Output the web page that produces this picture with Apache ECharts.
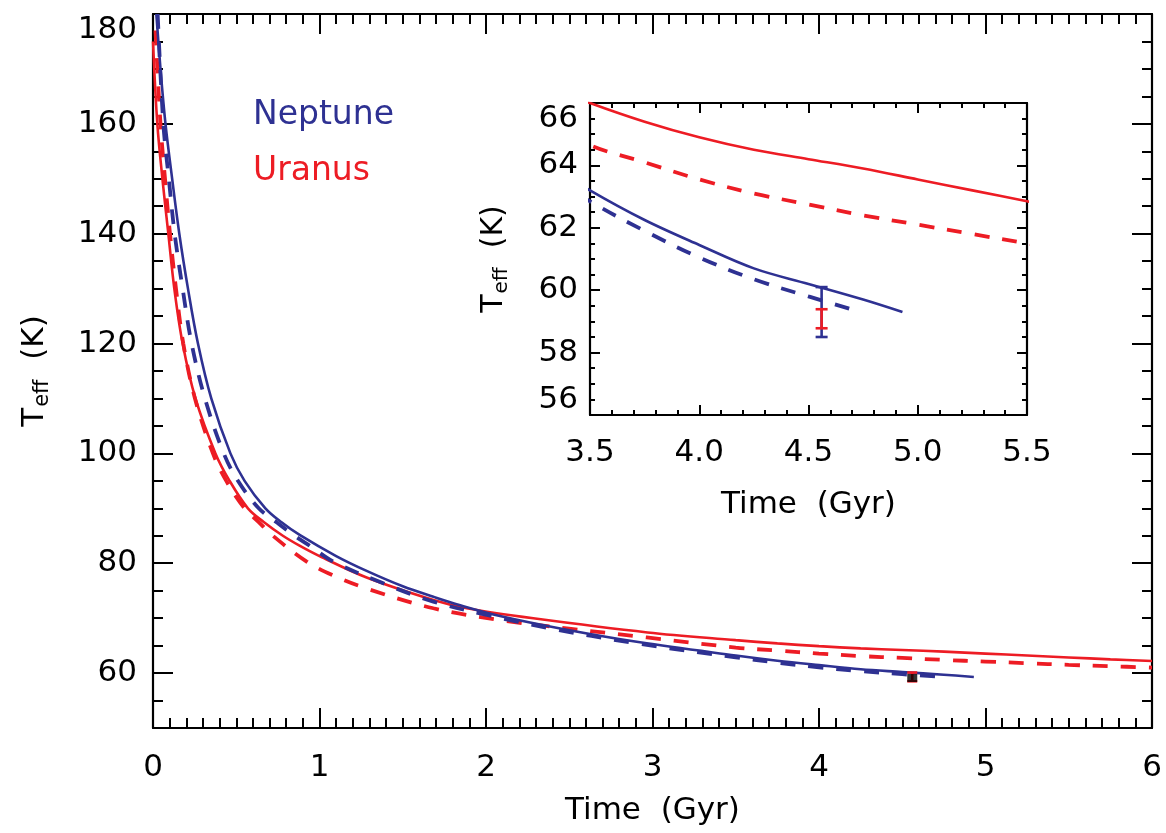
<!DOCTYPE html>
<html><head><meta charset="utf-8">
<script src="https://cdn.jsdelivr.net/npm/echarts@6/dist/echarts.min.js"></script>
<style>html,body{margin:0;padding:0;background:#fff}#c{width:1166px;height:833px}</style>
</head><body><div id="c"></div>
<script>
// ---- data (Time in Gyr, Teff in K) ----
const nepSolidTime = [0.02, 0.045, 0.075, 0.115, 0.158, 0.21, 0.27, 0.35, 0.465, 0.55, 0.675, 0.77, 0.883, 1.1, 1.283, 1.5, 1.684, 1.84, 2.084, 2.485, 2.925, 3.5, 3.75, 4.0, 4.25, 4.5, 4.75, 4.93];
const nepSolidTeff = [180, 170, 160, 150, 140, 130, 120, 110, 100, 95, 90, 87.5, 85.1, 81.3, 78.6, 75.8, 73.9, 72.4, 70.4, 67.9, 65.6, 63.2, 62.25, 61.45, 60.7, 60.2, 59.7, 59.3];
const nepDashTime = [0.028, 0.062, 0.095, 0.13, 0.178, 0.232, 0.312, 0.425, 0.51, 0.635, 0.74, 0.85, 0.95, 1.083, 1.383, 1.684, 2.004, 2.384, 2.885, 3.5, 3.75, 4.0, 4.25, 4.5, 4.74];
const nepDashTeff = [180, 160, 150, 140, 130, 120, 110, 100, 95, 90, 87.5, 85, 83, 80.3, 76.35, 73.0, 70.6, 68.15, 65.5, 62.85, 61.9, 61.05, 60.35, 59.8, 59.3];
const uraSolidTime = [0, 0.026, 0.06, 0.092, 0.128, 0.178, 0.255, 0.375, 0.46, 0.57, 0.665, 0.78, 0.88, 1.0, 1.283, 1.684, 1.884, 2.284, 2.97, 3.5, 3.75, 4.0, 4.25, 4.5, 4.75, 5.0, 5.25, 5.5, 5.75, 6.0];
const uraSolidTeff = [175, 160, 149, 140, 130, 120, 110, 100, 95, 90, 87.5, 85, 83.2, 81.3, 77.4, 73.3, 71.8, 69.97, 67.4, 66.0, 65.4, 64.9, 64.5, 64.2, 63.9, 63.55, 63.2, 62.85, 62.5, 62.2];
const uraDashTime = [0.015, 0.045, 0.075, 0.102, 0.138, 0.182, 0.252, 0.36, 0.44, 0.55, 0.635, 0.72, 0.923, 1.08, 1.283, 1.684, 2.084, 2.485, 2.965, 3.5, 3.75, 4.0, 4.25, 4.5, 4.75, 5.0, 5.25, 5.5, 5.75, 6.0];
const uraDashTeff = [177, 160, 149, 140, 130, 120, 110, 100, 95, 90, 87.5, 85, 80.3, 77.8, 75.4, 71.8, 69.66, 68.15, 66.5, 64.65, 64.1, 63.55, 63.1, 62.75, 62.4, 62.1, 61.8, 61.5, 61.25, 61.0];
// observed Teff at present age
const obsTime = [4.56];
const nepObsLow = [58.5], nepObsHigh = [60.1];
const uraObsLow = [58.78], uraObsHigh = [59.39];
const obsMarkTeff = [59.1];
const legendNames = ['Neptune', 'Uranus'];

const BLUE = '#2E3192', RED = '#ED1C24';
const FONT = 'DejaVu Sans';
const pairs = (a, b) => a.map((v, i) => [v, b[i]]);

function errBar(capW, lw) {
  return function (params, api) {
    const x = api.value(0), lo = api.value(1), hi = api.value(2);
    const p1 = api.coord([x, lo]), p2 = api.coord([x, hi]);
    const st = { stroke: api.visual('color'), lineWidth: lw };
    return { type: 'group', children: [
      { type: 'line', shape: { x1: p1[0], y1: p1[1], x2: p2[0], y2: p2[1] }, style: st },
      { type: 'line', shape: { x1: p1[0] - capW / 2, y1: p1[1], x2: p1[0] + capW / 2, y2: p1[1] }, style: st },
      { type: 'line', shape: { x1: p2[0] - capW / 2, y1: p2[1], x2: p2[0] + capW / 2, y2: p2[1] }, style: st }
    ]};
  };
}

const axLine = { show: true, onZero: false, lineStyle: { color: '#000', width: 2.2 } };
const lbl = (o) => Object.assign({ color: '#000', fontFamily: FONT, fontSize: 31 }, o);
const nameRich = (fs, sfs, pad) => ({
  t: { fontFamily: FONT, fontSize: fs, color: '#000' },
  s: { fontFamily: FONT, fontSize: sfs, color: '#000', padding: [pad, 0, 0, 1] }
});

function mainX(pos, showLabel) {
  return {
    type: 'value', gridIndex: 0, position: pos, min: 0, max: 6, interval: 1,
    axisLine: axLine, splitLine: { show: false },
    axisTick: { show: true, inside: true, length: 20, lineStyle: { color: '#000', width: 2 } },
    minorTick: { show: true, splitNumber: 10, length: 10, lineStyle: { color: '#000', width: 2 } },
    axisLabel: lbl({ show: showLabel, margin: 24 }),
    name: showLabel ? 'Time  (Gyr)' : '', nameLocation: 'middle', nameGap: 67,
    nameTextStyle: { fontFamily: FONT, fontSize: 31, color: '#000' }
  };
}
function mainY(pos, showLabel) {
  return {
    type: 'value', gridIndex: 0, position: pos, min: 50, max: 180, splitNumber: 6,
    minInterval: 20, maxInterval: 20,
    axisLine: axLine, splitLine: { show: false },
    axisTick: { show: true, inside: true, length: 20, lineStyle: { color: '#000', width: 2 } },
    minorTick: { show: true, splitNumber: 4, length: 10, lineStyle: { color: '#000', width: 2 } },
    axisLabel: lbl({ show: showLabel, margin: 16, showMinLabel: false, verticalAlignMaxLabel: 'top' }),
    name: showLabel ? '{t|T}{s|eff}{t|  (K)}' : '', nameLocation: 'middle', nameGap: 100, nameRotate: 90,
    nameTextStyle: { rich: nameRich(31, 21, 16) }
  };
}
function insetX(pos, showLabel) {
  return {
    type: 'value', gridIndex: 1, position: pos, min: 3.5, max: 5.5, interval: 0.5,
    axisLine: axLine, splitLine: { show: false },
    axisTick: { show: true, inside: true, length: 10, lineStyle: { color: '#000', width: 2 } },
    minorTick: { show: true, splitNumber: 5, length: 5, lineStyle: { color: '#000', width: 2 } },
    axisLabel: lbl({ show: showLabel, margin: 22, formatter: v => v.toFixed(1) }),
    name: showLabel ? 'Time  (Gyr)' : '', nameLocation: 'middle', nameGap: 74,
    nameTextStyle: { fontFamily: FONT, fontSize: 31, color: '#000' }
  };
}
function insetY(pos, showLabel) {
  return {
    type: 'value', gridIndex: 1, position: pos, min: 56, max: 66, interval: 2,
    axisLine: axLine, splitLine: { show: false },
    axisTick: { show: true, inside: true, length: 10, lineStyle: { color: '#000', width: 2 } },
    minorTick: { show: true, splitNumber: 4, length: 5, lineStyle: { color: '#000', width: 2 } },
    axisLabel: lbl({ show: showLabel, margin: 12, verticalAlignMinLabel: 'bottom', verticalAlignMaxLabel: 'top' }),
    name: showLabel ? '{t|T}{s|eff}{t|  (K)}' : '', nameLocation: 'middle', nameGap: 78, nameRotate: 90,
    nameTextStyle: { rich: nameRich(30, 20, 15) }
  };
}

function curve(name, t, k, color, dashed, xi, yi) {
  return {
    name, type: 'line', xAxisIndex: xi, yAxisIndex: yi, data: pairs(t, k),
    showSymbol: false, symbol: 'none', smooth: 0.35, clip: true,
    lineStyle: { color, width: dashed ? 3.8 : 2.6, type: dashed ? [15, 13] : 'solid', cap: 'butt' },
    silent: true, animation: false
  };
}

const series = [];
[[0, 0], [2, 2]].forEach(([xi, yi]) => {
  series.push(curve('Uranus', uraSolidTime, uraSolidTeff, RED, false, xi, yi));
  series.push(curve('Uranus', uraDashTime, uraDashTeff, RED, true, xi, yi));
  series.push(curve('Neptune', nepSolidTime, nepSolidTeff, BLUE, false, xi, yi));
  series.push(curve('Neptune', nepDashTime, nepDashTeff, BLUE, true, xi, yi));
});
// inset error bars
series.push({ type: 'custom', xAxisIndex: 2, yAxisIndex: 2, renderItem: errBar(12, 2.6), itemStyle: { color: BLUE },
  data: obsTime.map((t, i) => [t, nepObsLow[i], nepObsHigh[i]]), animation: false, z: 5 });
series.push({ type: 'custom', xAxisIndex: 2, yAxisIndex: 2, renderItem: errBar(12, 2.6), itemStyle: { color: RED },
  data: obsTime.map((t, i) => [t, uraObsLow[i], uraObsHigh[i]]), animation: false, z: 6 });
// main-panel observation
series.push({ type: 'custom', xAxisIndex: 0, yAxisIndex: 0, renderItem: errBar(10, 2.6), itemStyle: { color: RED },
  data: obsTime.map((t, i) => [t, nepObsLow[i], nepObsHigh[i]]), animation: false, z: 5 });
series.push({ type: 'scatter', xAxisIndex: 0, yAxisIndex: 0, symbol: 'rect', symbolSize: [10, 8],
  itemStyle: { color: '#000' }, data: obsTime.map((t, i) => [t, obsMarkTeff[i]]), animation: false, z: 7 });

const chart = echarts.init(document.getElementById('c'), null, { renderer: 'canvas' });
chart.setOption({
  backgroundColor: '#fff',
  animation: false,
  grid: [
    { left: 153, top: 14, width: 999, height: 714, containLabel: false },
    { left: 590, top: 103, width: 437, height: 312, containLabel: false }
  ],
  xAxis: [mainX('bottom', true), mainX('top', false), insetX('bottom', true), insetX('top', false)],
  yAxis: [mainY('left', true), mainY('right', false), insetY('left', true), insetY('right', false)],
  graphic: [
    { type: 'text', left: 253, top: 99, style: { text: legendNames[0], fill: BLUE, font: '33px "DejaVu Sans"' } },
    { type: 'text', left: 253, top: 155, style: { text: legendNames[1], fill: RED, font: '33px "DejaVu Sans"' } }
  ],
  series
});
</script></body></html>
